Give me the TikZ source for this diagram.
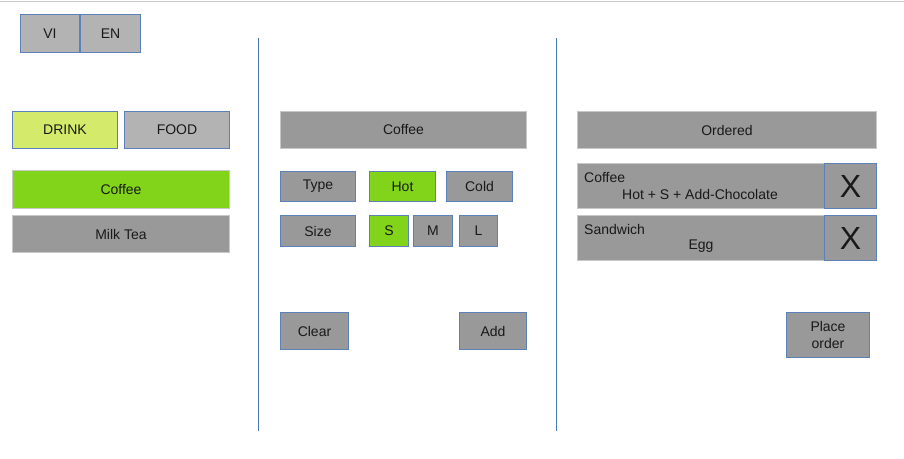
\documentclass[tikz,border=0pt]{standalone}
\usepackage{fontspec}
\setmainfont{Liberation Sans}
\usetikzlibrary{positioning}

\definecolor{btngray}{HTML}{999999}
\definecolor{softgray}{HTML}{B3B3B3}
\definecolor{btnblue}{HTML}{5C80B8}
\definecolor{barline}{HTML}{C8C8C8}
\definecolor{divblue}{HTML}{4A78B5}
\definecolor{pickgreen}{HTML}{81D41A}
\definecolor{tabyellow}{HTML}{D4EA6B}

\begin{document}
\begin{tikzpicture}[x=1pt, y=-1pt, node distance=0pt,
    btn/.style={draw=btnblue, fill=btngray, line width=1pt, inner sep=0pt, anchor=north west,
        text=black!90, font=\fontsize{14}{17}\selectfont},
    bar/.style={btn, draw=barline},
    label/.style={inner sep=0pt, text=black!90, font=\fontsize{14}{17}\selectfont}]
        \useasboundingbox (0,0) rectangle (904,458);
        % Define the frame
        \draw[barline] (0,1) -- (904,1);
        \draw[divblue] (258,38) -- (258,431);
        \draw[divblue] (556,38) -- (556,431);
        % Define the language and menu nodes
        \node[btn, fill=softgray, minimum width=59pt, minimum height=38pt] (vi) at (20,14) {VI};
        \node[btn, fill=softgray, minimum width=60pt, minimum height=38pt, right=of vi] (en) {EN};
        \node[btn, fill=tabyellow, minimum width=105pt, minimum height=37pt] (drink) at (12,111) {DRINK};
        \node[btn, fill=softgray, minimum width=105pt, minimum height=37pt] (food) at (124,111) {FOOD};
        \node[bar, fill=pickgreen, minimum width=217pt, minimum height=38pt] (coffee) at (12,170) {Coffee};
        \node[bar, minimum width=217pt, minimum height=37pt] (milktea) at (12,215) {Milk Tea};
        % Define the option nodes
        \node[bar, minimum width=246pt, minimum height=37pt] (item) at (280,111) {Coffee};
        \node[btn, minimum width=75pt, minimum height=30pt] (type) at (280,171) {Type};
        \node[btn, fill=pickgreen, minimum width=66pt, minimum height=30pt] (hot) at (369,171) {Hot};
        \node[btn, minimum width=66pt, minimum height=30pt] (cold) at (446,171) {Cold};
        \node[btn, minimum width=75pt, minimum height=31pt] (size) at (280,215) {Size};
        \node[btn, fill=pickgreen, minimum width=39pt, minimum height=31pt] (small) at (369,215) {S};
        \node[btn, minimum width=39pt, minimum height=31pt] (medium) at (413,215) {M};
        \node[btn, minimum width=38pt, minimum height=31pt] (large) at (459,215) {L};
        \node[btn, minimum width=68pt, minimum height=37pt] (clear) at (280,312) {Clear};
        \node[btn, minimum width=67pt, minimum height=37pt] (add) at (459,312) {Add};
        % Define the order nodes
        \node[bar, minimum width=299pt, minimum height=37pt] (ordered) at (577,111) {Ordered};
        \node[bar, minimum width=247pt, minimum height=45pt] (row1) at (577,163) {};
        \node[btn, minimum width=52pt, minimum height=45pt, font=\fontsize{32}{32}\selectfont] (del1) at (824,163) {X};
        \node[bar, minimum width=247pt, minimum height=45pt] (row2) at (577,215) {};
        \node[btn, minimum width=52pt, minimum height=45pt, font=\fontsize{32}{32}\selectfont] (del2) at (824,215) {X};
        \node[label, anchor=west] (name1) at (584,177) {Coffee};
        \node[label] (opts1) at (700,194) {Hot + S + Add-Chocolate};
        \node[label, anchor=west] (name2) at (584,229) {Sandwich};
        \node[label] (opts2) at (701,246) {Egg};
        \node[btn, minimum width=83pt, minimum height=45pt, align=center] (place) at (786,312) {Place\\order};
    \end{tikzpicture}
\end{document}
